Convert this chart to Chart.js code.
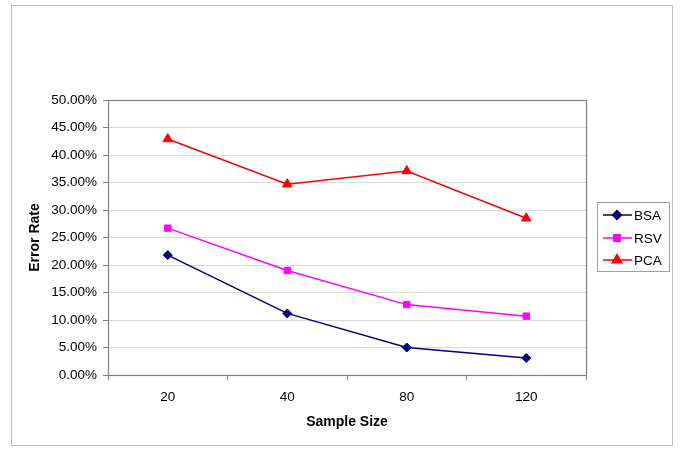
<!DOCTYPE html>
<html>
<head>
<meta charset="utf-8">
<script src="https://cdn.jsdelivr.net/npm/chart.js@4.4.1/dist/chart.umd.min.js"></script>
<style>
  html, body { margin:0; padding:0; background:#fff; }
  #wrap { width:685px; height:449px; }
</style>
</head>
<body>
<div id="wrap"><canvas id="cv" width="685" height="449"></canvas></div>
<script>
// sample sizes on the x axis
const sampleSizes = ['20', '40', '80', '120'];
// error rates (fraction)
const bsaRates = [0.218, 0.112, 0.050, 0.031];
const rsvRates = [0.267, 0.190, 0.128, 0.107];
const pcaRates = [0.429, 0.347, 0.371, 0.285];

const FONT = "'Liberation Sans', Arial, sans-serif";

const series = [
  { label:'BSA', data:bsaRates, color:'#000080', style:'rectRot', r:4.5 },
  { label:'RSV', data:rsvRates, color:'#FF00FF', style:'rect',    r:4.5 },
  { label:'PCA', data:pcaRates, color:'#FF0000', style:'triangle', r:5.5 }
];

// outer frame + plot area border
const framePlugin = {
  id:'frame',
  beforeDraw(chart) {
    const c = chart.ctx;
    c.save();
    c.fillStyle = '#fff';
    c.fillRect(0, 0, chart.width, chart.height);
    c.strokeStyle = '#c0c0c0';
    c.lineWidth = 1;
    c.strokeRect(11.5, 5.5, 661, 440);
    c.restore();
  },
  beforeDatasetsDraw(chart) {
    const a = chart.chartArea, c = chart.ctx;
    c.save();
    c.strokeStyle = '#808080';
    c.lineWidth = 1.2;
    c.strokeRect(Math.round(a.left)+0.5, Math.round(a.top)+0.5, Math.round(a.right-a.left), Math.round(a.bottom-a.top));
    c.restore();
  }
};

// excel-ish legend box: line with marker then label
const legendPlugin = {
  id:'xlLegend',
  afterDraw(chart) {
    const c = chart.ctx;
    const bx = 597, by = 202, bw = 72, bh = 69;
    c.save();
    c.strokeStyle = '#a0a0a0';
    c.lineWidth = 1;
    c.strokeRect(bx+0.5, by+0.5, bw, bh);
    const ys = [215, 238, 260];
    chart.data.datasets.forEach((ds, i) => {
      const y = ys[i];
      c.strokeStyle = ds.borderColor;
      c.lineWidth = 1.5;
      c.beginPath(); c.moveTo(603, y); c.lineTo(632, y); c.stroke();
      c.fillStyle = ds.backgroundColor;
      Chart.helpers.drawPoint(c, { pointStyle: ds.pointStyle, radius: ds.pointRadius, rotation: 0, borderWidth: 1 }, 617, y);
      c.fill();
      c.fillStyle = '#000';
      c.font = '13.5px ' + FONT;
      c.textBaseline = 'middle';
      c.textAlign = 'left';
      c.fillText(ds.label, 634, y + 1);
    });
    c.restore();
  }
};

new Chart(document.getElementById('cv'), {
  type:'line',
  data:{
    labels: sampleSizes,
    datasets: series.map(s => ({
      label: s.label,
      data: s.data,
      borderColor: s.color,
      backgroundColor: s.color,
      borderWidth: 1.5,
      pointStyle: s.style,
      pointRadius: s.r,
      pointBorderWidth: 1,
      tension: 0
    }))
  },
  options:{
    responsive:false,
    animation:false,
    layout:{ padding:{ left:23, top:100, right:99, bottom:14 } },
    plugins:{ legend:{ display:false }, tooltip:{ enabled:false } },
    scales:{
      x:{
        offset:true,
        grid:{ offset:true, drawOnChartArea:false, drawTicks:true, tickLength:5, tickColor:'#808080' },
        border:{ color:'#808080', width:1 },
        ticks:{ color:'#000', padding:9, font:{ family:FONT, size:13.5 } },
        title:{ display:true, text:'Sample Size', color:'#000', font:{ family:FONT, size:14, weight:'bold' } },
        afterFit:(s) => { s.height = 60; }
      },
      y:{
        min:0, max:0.5,
        grid:{ color:'#d9d9d9', tickLength:5, tickColor:'#808080' },
        border:{ color:'#808080', width:1 },
        ticks:{ stepSize:0.05, color:'#000', padding:6, font:{ family:FONT, size:13.5 },
                callback:(v) => (v*100).toFixed(2) + '%' },
        title:{ display:true, text:'Error Rate', color:'#000', font:{ family:FONT, size:14, weight:'bold' } },
        afterFit:(s) => { s.width = 85; }
      }
    }
  },
  plugins:[framePlugin, legendPlugin]
});
</script>
</body>
</html>
